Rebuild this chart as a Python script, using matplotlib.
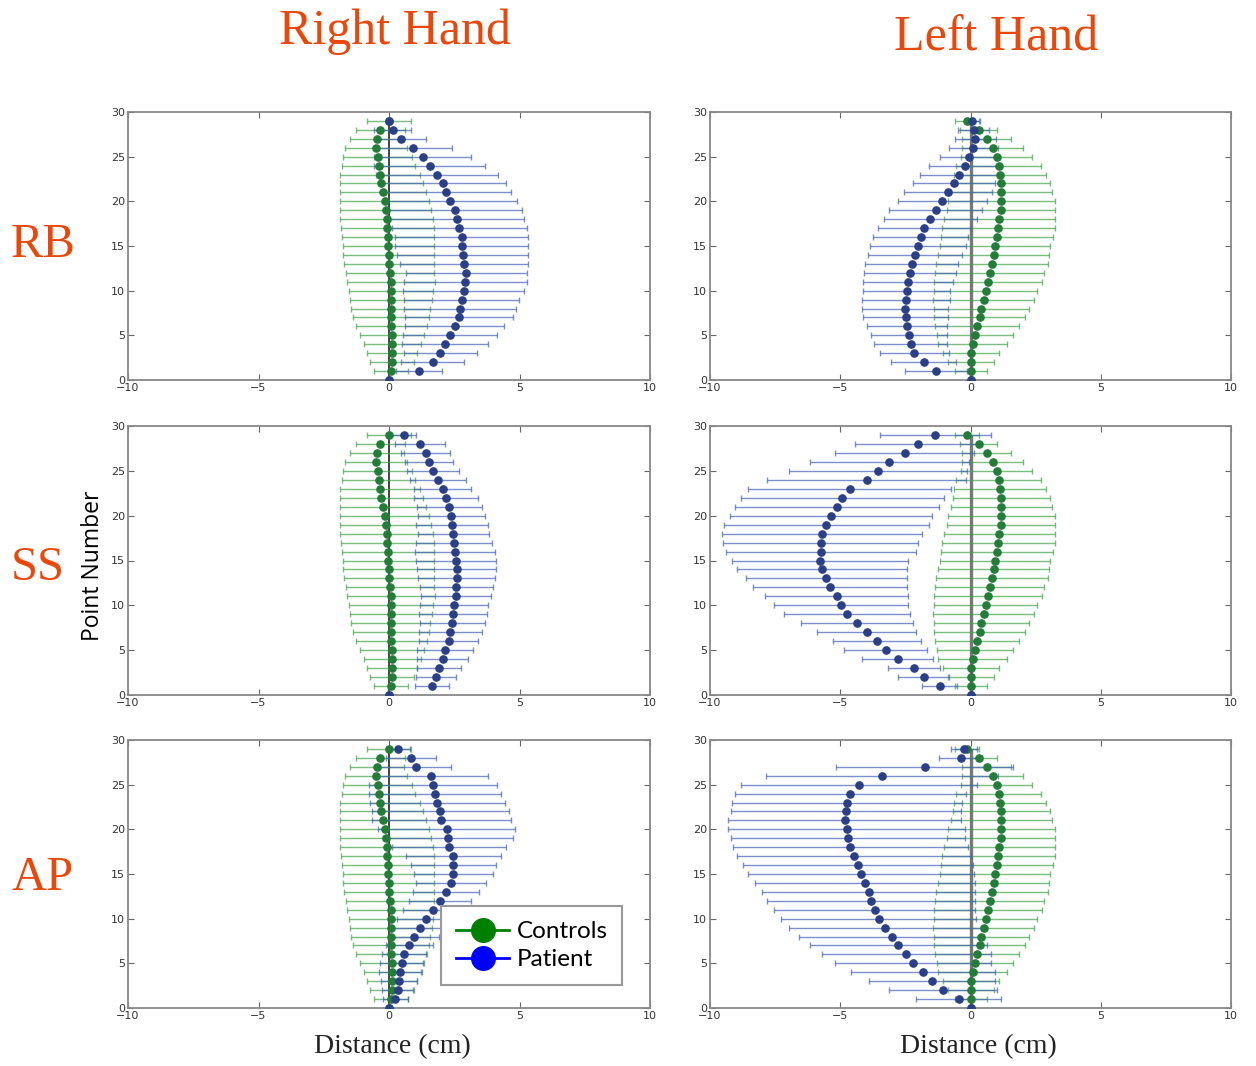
import matplotlib
matplotlib.use("Agg")
import matplotlib.pyplot as plt
from matplotlib.lines import Line2D

# ---------------- data ----------------
points = list(range(30))

# Controls (same in every row of a column)
ctrl_right_mean = [0.0, 0.08, 0.12, 0.12, 0.13, 0.12, 0.09, 0.07, 0.07, 0.08,
                   0.08, 0.08, 0.04, 0.01, -0.01, -0.03, -0.04, -0.07, -0.09, -0.13,
                   -0.17, -0.24, -0.30, -0.34, -0.40, -0.44, -0.49, -0.46, -0.34, 0.0]
ctrl_right_err = [0.0, 0.65, 0.85, 0.97, 1.10, 1.22, 1.36, 1.45, 1.52, 1.57,
                  1.61, 1.68, 1.68, 1.72, 1.74, 1.74, 1.75, 1.78, 1.79, 1.75,
                  1.71, 1.65, 1.59, 1.54, 1.41, 1.31, 1.19, 1.05, 0.94, 0.83]
ctrl_left_mean = [0.0, 0.03, 0.01, 0.03, 0.08, 0.18, 0.26, 0.35, 0.42, 0.51,
                  0.58, 0.66, 0.74, 0.81, 0.89, 0.94, 1.00, 1.06, 1.10, 1.16,
                  1.19, 1.19, 1.19, 1.13, 1.08, 1.00, 0.85, 0.62, 0.31, -0.12]
ctrl_left_err = [0.0, 0.62, 0.89, 1.07, 1.33, 1.46, 1.61, 1.74, 1.83, 1.94,
                 1.98, 2.07, 2.09, 2.15, 2.13, 2.13, 2.15, 2.17, 2.13, 2.07,
                 2.04, 1.95, 1.87, 1.78, 1.64, 1.38, 1.18, 0.94, 0.70, 0.46]

# Patient
rb_right_mean = [0.0, 1.15, 1.67, 1.97, 2.14, 2.35, 2.51, 2.67, 2.72, 2.78,
                 2.87, 2.92, 2.96, 2.88, 2.83, 2.78, 2.78, 2.70, 2.62, 2.51,
                 2.35, 2.18, 2.05, 1.84, 1.56, 1.30, 0.93, 0.46, 0.15, 0.0]
rb_right_err = [0.0, 0.87, 1.20, 1.40, 1.64, 1.80, 1.91, 2.07, 2.13, 2.21,
                2.32, 2.36, 2.32, 2.46, 2.51, 2.56, 2.54, 2.60, 2.57, 2.57,
                2.56, 2.49, 2.45, 2.34, 2.12, 1.86, 1.49, 0.94, 0.71, 0.0]
rb_left_mean = [0.0, -1.33, -1.79, -2.15, -2.30, -2.36, -2.44, -2.49, -2.52, -2.49,
                -2.45, -2.40, -2.33, -2.26, -2.13, -2.03, -1.91, -1.78, -1.54, -1.33,
                -1.08, -0.88, -0.63, -0.43, -0.22, -0.04, 0.11, 0.19, 0.12, 0.07]
rb_left_err = [0.0, 1.20, 1.25, 1.34, 1.39, 1.46, 1.55, 1.64, 1.66, 1.69,
               1.68, 1.73, 1.76, 1.79, 1.82, 1.84, 1.83, 1.79, 1.79, 1.78,
               1.71, 1.69, 1.57, 1.50, 1.36, 1.15, 0.95, 0.80, 0.59, 0.30]
ss_right_mean = [0.0, 1.64, 1.81, 1.92, 2.05, 2.15, 2.29, 2.35, 2.43, 2.46,
                 2.49, 2.57, 2.57, 2.59, 2.59, 2.57, 2.54, 2.49, 2.46, 2.41,
                 2.38, 2.31, 2.18, 2.05, 1.88, 1.69, 1.53, 1.40, 1.18, 0.56]
ss_right_err = [0.0, 0.65, 0.77, 0.85, 0.97, 1.07, 1.13, 1.21, 1.25, 1.30,
                1.32, 1.33, 1.40, 1.46, 1.51, 1.53, 1.53, 1.46, 1.36, 1.37,
                1.28, 1.25, 1.22, 1.11, 1.07, 1.01, 0.92, 0.94, 0.96, 0.49]
ss_left_mean = [0.0, -1.19, -1.80, -2.17, -2.80, -3.26, -3.60, -3.99, -4.35, -4.74,
                -4.97, -5.14, -5.39, -5.54, -5.70, -5.78, -5.75, -5.75, -5.70, -5.54,
                -5.36, -5.13, -4.92, -4.63, -3.99, -3.56, -3.11, -2.52, -2.03, -1.35]
ss_left_err = [0.0, 0.69, 0.98, 0.99, 1.36, 1.59, 1.69, 1.91, 2.14, 2.43,
               2.56, 2.75, 2.95, 3.09, 3.28, 3.39, 3.65, 3.74, 3.84, 3.93,
               3.89, 3.91, 3.90, 3.90, 3.82, 3.42, 3.06, 2.67, 2.40, 2.12]
ap_right_mean = [0.0, 0.24, 0.33, 0.38, 0.44, 0.49, 0.58, 0.77, 0.94, 1.18,
                 1.42, 1.69, 1.96, 2.18, 2.37, 2.47, 2.47, 2.47, 2.31, 2.26,
                 2.21, 2.01, 1.96, 1.85, 1.77, 1.69, 1.61, 1.02, 0.85, 0.33]
ap_right_err = [0.0, 0.47, 0.58, 0.70, 0.82, 0.83, 0.85, 0.90, 0.98, 1.07,
                1.13, 1.17, 1.20, 1.25, 1.35, 1.51, 1.63, 1.83, 2.19, 2.49,
                2.62, 2.67, 2.63, 2.58, 2.53, 2.46, 2.19, 1.35, 0.96, 0.46]
ap_left_mean = [0.0, -0.46, -1.05, -1.48, -1.82, -2.20, -2.46, -2.77, -3.03, -3.27,
                -3.53, -3.68, -3.81, -3.91, -4.04, -4.20, -4.32, -4.48, -4.61, -4.71,
                -4.75, -4.82, -4.78, -4.74, -4.61, -4.28, -3.39, -1.76, -0.38, -0.24]
ap_left_err = [0.0, 1.63, 2.06, 2.43, 2.75, 3.00, 3.25, 3.41, 3.56, 3.69,
               3.76, 3.85, 3.99, 4.09, 4.23, 4.34, 4.42, 4.49, 4.52, 4.50,
               4.54, 4.47, 4.42, 4.40, 4.43, 4.54, 4.45, 3.41, 0.82, 0.50]

row_labels = ["RB", "SS", "AP"]
col_titles = ["Right Hand", "Left Hand"]
patient = [[(rb_right_mean, rb_right_err), (rb_left_mean, rb_left_err)],
           [(ss_right_mean, ss_right_err), (ss_left_mean, ss_left_err)],
           [(ap_right_mean, ap_right_err), (ap_left_mean, ap_left_err)]]
controls = [(ctrl_right_mean, ctrl_right_err), (ctrl_left_mean, ctrl_left_err)]
legend_labels = ["Controls", "Patient"]

# ---------------- style ----------------
W, H = 1256, 1066
fig = plt.figure(figsize=(W / 100, H / 100), dpi=100)
ORANGE = "#E8480C"
G_DOT = "#237d38"
B_DOT = "#2b3f86"
G_BAR = (0.25, 0.64, 0.28, 0.7)
B_BAR = (0.27, 0.38, 0.72, 0.7)

col_left = [128, 710]
col_w = [522, 521]
row_top = [112, 426, 740]
row_h = [268, 269, 268]

axes = [[None, None] for _ in range(3)]
for r in range(3):
    for c in range(2):
        ax = fig.add_axes([col_left[c] / W, 1 - (row_top[r] + row_h[r]) / H,
                           col_w[c] / W, row_h[r] / H])
        axes[r][c] = ax
        cm, ce = controls[c]
        pm, pe = patient[r][c]
        # reference line
        if c == 0:
            ax.vlines(0, points[0], points[-1], color="#222222", lw=1.2, zorder=1)
        else:
            ax.vlines(0, points[0], points[-1], color="#777777", lw=2.4, zorder=1)
        ax.errorbar(cm, points, xerr=ce, fmt="none", ecolor=G_BAR, elinewidth=1.0,
                    capsize=2.5, capthick=1.0, zorder=2)
        ax.errorbar(pm, points, xerr=pe, fmt="none", ecolor=B_BAR, elinewidth=1.0,
                    capsize=2.5, capthick=1.0, zorder=2)
        ax.plot(cm, points, "o", color=G_DOT, ms=5.2, mec=G_DOT, ls="none", zorder=3)
        ax.plot(pm, points, "o", color=B_DOT, ms=5.2, mec=B_DOT, ls="none", zorder=3)
        ax.set_xlim(-10, 10)
        ax.set_ylim(0, 30)
        ax.set_xticks([-10, -5, 0, 5, 10])
        ax.set_yticks([0, 5, 10, 15, 20, 25, 30])
        ax.tick_params(direction="in", top=True, right=True, length=4, width=0.8,
                       color="#666666", labelsize=8, labelcolor="#333333", pad=2)
        for s in ax.spines.values():
            s.set_color("#888888")
            s.set_linewidth(1.3)

# legend
handles = [Line2D([], [], color="green", marker="o", ms=17, lw=2),
           Line2D([], [], color="blue", marker="o", ms=17, lw=2)]
leg = axes[2][0].legend(handles, legend_labels, loc="lower left",
                        bbox_to_anchor=(0.60, 0.086), borderaxespad=0,
                        fancybox=False, framealpha=1,
                        edgecolor="#999999", handlelength=2.2, borderpad=0.6,
                        labelspacing=0.3, handletextpad=0.3,
                        prop={"family": ["Lato", "DejaVu Sans"], "size": 17.5})
leg.get_frame().set_linewidth(1.5)

serif = ["Liberation Serif", "DejaVu Serif"]
# column titles
fig.text(395 / W, 1 - 32 / H, col_titles[0], color=ORANGE, fontsize=36,
         family=serif, ha="center", va="center")
fig.text(996 / W, 1 - 38 / H, col_titles[1], color=ORANGE, fontsize=36,
         family=serif, ha="center", va="center")
# row labels
row_xy = [(43, 245), (38, 568), (43, 878)]
for lab, (x, y) in zip(row_labels, row_xy):
    fig.text(x / W, 1 - y / H, lab, color=ORANGE, fontsize=35, family=serif,
             ha="center", va="center")
# axis labels
fig.text(93 / W, 1 - 566 / H, "Point Number", rotation=90, fontsize=16.5,
         family=["Open Sans", "DejaVu Sans"], ha="center", va="center", color="black")
for x in (392, 978):
    fig.text(x / W, 1 - 1047 / H, "Distance (cm)", fontsize=20, family=serif,
             ha="center", va="center", color="#222222")

fig.savefig("out.png", dpi=100)
